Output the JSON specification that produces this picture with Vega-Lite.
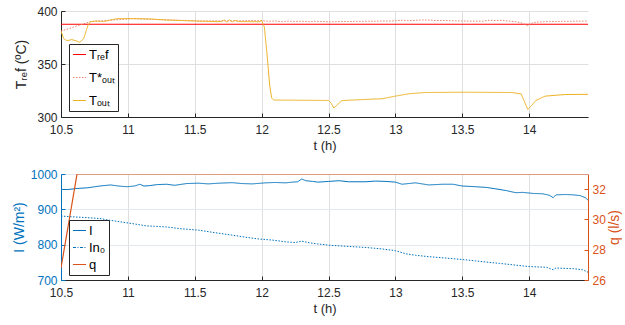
{
  "$schema": "https://vega.github.io/schema/vega-lite/v6.json",
  "padding": {"left": 12, "top": 5, "right": 0, "bottom": 5},
  "spacing": 16,
  "config": {
    "font": "Liberation Sans",
    "view": {"stroke": null},
    "axis": {"labelFont": "Liberation Sans", "titleFont": "Liberation Sans", "labelFontSize": 12, "titleFontSize": 13, "titleFontWeight": "normal", "labelColor": "#262626", "titleColor": "#262626", "domainColor": "#262626", "tickColor": "#262626", "gridColor": "#dfdfdf", "tickSize": -4, "labelPadding": 8, "titlePadding": 4, "labelFlush": false},
    "axisX": {"labelPadding": 11},
    "legend": {"labelFont": "Liberation Sans", "labelFontSize": 13, "labelColor": "#000000", "strokeColor": "#262626", "fillColor": "white", "padding": 3, "symbolType": "stroke", "symbolSize": 170, "symbolStrokeWidth": 1.2, "rowPadding": 6, "labelOffset": 2, "orient": "none"}
  },
  "resolve": {"scale": {"color": "independent"}},
  "vconcat": [
    {
      "width": 527,
      "height": 106,
      "data": {"values": [
        {"t": 10.5, "v": 387.5, "s": "Tᵣₑf"}, {"t": 14.44, "v": 387.5, "s": "Tᵣₑf"},
        {"t": 10.5, "v": 381, "s": "T*ₒᵤₜ"}, {"t": 10.72, "v": 390, "s": "T*ₒᵤₜ"}, {"t": 11.04, "v": 392.8, "s": "T*ₒᵤₜ"}, {"t": 11.53, "v": 390.5, "s": "T*ₒᵤₜ"}, {"t": 12.0, "v": 391, "s": "T*ₒᵤₜ"},
        {"t": 12.05, "v": 390.2, "s": "T*ₒᵤₜ"}, {"t": 12.1, "v": 390.6, "s": "T*ₒᵤₜ"}, {"t": 12.15, "v": 390.0, "s": "T*ₒᵤₜ"}, {"t": 12.2, "v": 390.5, "s": "T*ₒᵤₜ"}, {"t": 12.25, "v": 390.1, "s": "T*ₒᵤₜ"}, {"t": 12.3, "v": 390.4, "s": "T*ₒᵤₜ"}, {"t": 12.35, "v": 389.9, "s": "T*ₒᵤₜ"}, {"t": 12.4, "v": 390.3, "s": "T*ₒᵤₜ"}, {"t": 12.45, "v": 390.0, "s": "T*ₒᵤₜ"}, {"t": 12.5, "v": 389.8, "s": "T*ₒᵤₜ"}, {"t": 12.55, "v": 389.9, "s": "T*ₒᵤₜ"}, {"t": 12.6, "v": 390.1, "s": "T*ₒᵤₜ"}, {"t": 12.65, "v": 390.0, "s": "T*ₒᵤₜ"}, {"t": 12.7, "v": 390.3, "s": "T*ₒᵤₜ"}, {"t": 12.75, "v": 390.2, "s": "T*ₒᵤₜ"}, {"t": 12.8, "v": 390.4, "s": "T*ₒᵤₜ"}, {"t": 12.85, "v": 390.3, "s": "T*ₒᵤₜ"}, {"t": 12.9, "v": 390.6, "s": "T*ₒᵤₜ"}, {"t": 12.95, "v": 390.5, "s": "T*ₒᵤₜ"}, {"t": 13.0, "v": 390.8, "s": "T*ₒᵤₜ"}, {"t": 13.05, "v": 391.3, "s": "T*ₒᵤₜ"}, {"t": 13.1, "v": 390.8, "s": "T*ₒᵤₜ"}, {"t": 13.15, "v": 391.2, "s": "T*ₒᵤₜ"}, {"t": 13.2, "v": 391.5, "s": "T*ₒᵤₜ"}, {"t": 13.25, "v": 391.4, "s": "T*ₒᵤₜ"}, {"t": 13.3, "v": 391.1, "s": "T*ₒᵤₜ"}, {"t": 13.35, "v": 391.0, "s": "T*ₒᵤₜ"}, {"t": 13.4, "v": 390.9, "s": "T*ₒᵤₜ"}, {"t": 13.45, "v": 390.7, "s": "T*ₒᵤₜ"}, {"t": 13.5, "v": 390.6, "s": "T*ₒᵤₜ"}, {"t": 13.55, "v": 390.5, "s": "T*ₒᵤₜ"}, {"t": 13.6, "v": 390.4, "s": "T*ₒᵤₜ"}, {"t": 13.65, "v": 390.3, "s": "T*ₒᵤₜ"}, {"t": 13.7, "v": 391.3, "s": "T*ₒᵤₜ"}, {"t": 13.75, "v": 391.0, "s": "T*ₒᵤₜ"}, {"t": 13.8, "v": 391.2, "s": "T*ₒᵤₜ"}, {"t": 13.85, "v": 390.4, "s": "T*ₒᵤₜ"}, {"t": 13.9, "v": 390.0, "s": "T*ₒᵤₜ"}, {"t": 13.95, "v": 388.5, "s": "T*ₒᵤₜ"}, {"t": 13.99, "v": 386.0, "s": "T*ₒᵤₜ"}, {"t": 14.02, "v": 388.5, "s": "T*ₒᵤₜ"}, {"t": 14.05, "v": 389.5, "s": "T*ₒᵤₜ"}, {"t": 14.1, "v": 389.8, "s": "T*ₒᵤₜ"}, {"t": 14.15, "v": 390.2, "s": "T*ₒᵤₜ"}, {"t": 14.2, "v": 390.0, "s": "T*ₒᵤₜ"}, {"t": 14.25, "v": 390.4, "s": "T*ₒᵤₜ"}, {"t": 14.3, "v": 390.2, "s": "T*ₒᵤₜ"}, {"t": 14.35, "v": 390.5, "s": "T*ₒᵤₜ"}, {"t": 14.4, "v": 390.4, "s": "T*ₒᵤₜ"}, {"t": 14.44, "v": 390.5, "s": "T*ₒᵤₜ"},
        {"t": 10.5, "v": 381, "s": "Tₒᵤₜ"}, {"t": 10.52, "v": 374, "s": "Tₒᵤₜ"}, {"t": 10.545, "v": 372, "s": "Tₒᵤₜ"}, {"t": 10.58, "v": 373, "s": "Tₒᵤₜ"}, {"t": 10.61, "v": 372, "s": "Tₒᵤₜ"}, {"t": 10.64, "v": 370.5, "s": "Tₒᵤₜ"}, {"t": 10.67, "v": 374, "s": "Tₒᵤₜ"}, {"t": 10.69, "v": 382, "s": "Tₒᵤₜ"}, {"t": 10.7, "v": 386, "s": "Tₒᵤₜ"}, {"t": 10.72, "v": 390, "s": "Tₒᵤₜ"}, {"t": 10.77, "v": 390.5, "s": "Tₒᵤₜ"}, {"t": 10.82, "v": 390, "s": "Tₒᵤₜ"}, {"t": 10.87, "v": 391.5, "s": "Tₒᵤₜ"}, {"t": 10.92, "v": 392.8, "s": "Tₒᵤₜ"}, {"t": 11.04, "v": 392.8, "s": "Tₒᵤₜ"}, {"t": 11.16, "v": 392.5, "s": "Tₒᵤₜ"}, {"t": 11.29, "v": 391.5, "s": "Tₒᵤₜ"}, {"t": 11.41, "v": 391, "s": "Tₒᵤₜ"}, {"t": 11.53, "v": 390.5, "s": "Tₒᵤₜ"}, {"t": 11.66, "v": 390, "s": "Tₒᵤₜ"}, {"t": 11.7, "v": 390, "s": "Tₒᵤₜ"}, {"t": 11.72, "v": 391.5, "s": "Tₒᵤₜ"}, {"t": 11.74, "v": 389.5, "s": "Tₒᵤₜ"}, {"t": 11.76, "v": 391.5, "s": "Tₒᵤₜ"}, {"t": 11.78, "v": 389.8, "s": "Tₒᵤₜ"}, {"t": 11.8, "v": 391, "s": "Tₒᵤₜ"}, {"t": 11.83, "v": 390, "s": "Tₒᵤₜ"}, {"t": 11.9, "v": 390, "s": "Tₒᵤₜ"}, {"t": 11.98, "v": 389.8, "s": "Tₒᵤₜ"}, {"t": 12.0, "v": 391, "s": "Tₒᵤₜ"}, {"t": 12.02, "v": 385, "s": "Tₒᵤₜ"}, {"t": 12.04, "v": 360, "s": "Tₒᵤₜ"}, {"t": 12.06, "v": 330, "s": "Tₒᵤₜ"}, {"t": 12.075, "v": 318, "s": "Tₒᵤₜ"}, {"t": 12.09, "v": 316, "s": "Tₒᵤₜ"}, {"t": 12.3, "v": 315.8, "s": "Tₒᵤₜ"}, {"t": 12.5, "v": 315.6, "s": "Tₒᵤₜ"}, {"t": 12.52, "v": 313, "s": "Tₒᵤₜ"}, {"t": 12.54, "v": 308.5, "s": "Tₒᵤₜ"}, {"t": 12.57, "v": 312, "s": "Tₒᵤₜ"}, {"t": 12.6, "v": 315.5, "s": "Tₒᵤₜ"}, {"t": 12.78, "v": 316.6, "s": "Tₒᵤₜ"}, {"t": 12.9, "v": 317.2, "s": "Tₒᵤₜ"}, {"t": 13.0, "v": 319.7, "s": "Tₒᵤₜ"}, {"t": 13.1, "v": 321.9, "s": "Tₒᵤₜ"}, {"t": 13.22, "v": 323.1, "s": "Tₒᵤₜ"}, {"t": 13.52, "v": 323.4, "s": "Tₒᵤₜ"}, {"t": 13.87, "v": 323.1, "s": "Tₒᵤₜ"}, {"t": 13.94, "v": 321.8, "s": "Tₒᵤₜ"}, {"t": 13.97, "v": 313, "s": "Tₒᵤₜ"}, {"t": 13.99, "v": 307.2, "s": "Tₒᵤₜ"}, {"t": 14.02, "v": 311, "s": "Tₒᵤₜ"}, {"t": 14.05, "v": 315.6, "s": "Tₒᵤₜ"}, {"t": 14.12, "v": 319.7, "s": "Tₒᵤₜ"}, {"t": 14.27, "v": 321.2, "s": "Tₒᵤₜ"}, {"t": 14.44, "v": 321.4, "s": "Tₒᵤₜ"}
      ]},
      "mark": {"type": "line", "strokeWidth": 1, "clip": true},
      "encoding": {
        "x": {"field": "t", "type": "quantitative", "scale": {"domain": [10.5, 14.44], "nice": false, "zero": false}, "axis": {"values": [10.5, 11, 11.5, 12, 12.5, 13, 13.5, 14], "format": "~g", "title": "t (h)"}},
        "y": {"field": "v", "type": "quantitative", "scale": {"domain": [300, 400], "zero": false}, "axis": {"values": [300, 350, 400], "title": "Tᵣₑf (ºC)", "titleFontSize": 14, "titlePadding": 8}},
        "color": {"field": "s", "type": "nominal", "sort": null, "scale": {"domain": ["Tᵣₑf", "T*ₒᵤₜ", "Tₒᵤₜ"], "range": ["#ff0000", "#e8846c", "#EDB120"]}, "legend": {"title": null, "legendX": 8, "legendY": 33, "rowPadding": 8, "encode": {"symbols": {"update": {"strokeDash": {"signal": "datum.value === 'T*ₒᵤₜ' ? [1.5, 1.5] : [1, 0]"}}}}}},
        "strokeDash": {"field": "s", "type": "nominal", "sort": null, "scale": {"domain": ["Tᵣₑf", "T*ₒᵤₜ", "Tₒᵤₜ"], "range": [[1, 0], [1.5, 1.5], [1, 0]]}, "legend": null}
      }
    },
    {
      "width": 527,
      "height": 106,
      "layer": [
        {
          "data": {"values": [
            {"t": 10.5, "v": 956.5, "s": "I"}, {"t": 10.55, "v": 956, "s": "I"}, {"t": 10.62, "v": 959, "s": "I"}, {"t": 10.7, "v": 961, "s": "I"}, {"t": 10.79, "v": 966, "s": "I"}, {"t": 10.87, "v": 969, "s": "I"}, {"t": 10.93, "v": 966, "s": "I"}, {"t": 10.99, "v": 964, "s": "I"}, {"t": 11.05, "v": 966, "s": "I"}, {"t": 11.09, "v": 971, "s": "I"}, {"t": 11.12, "v": 966, "s": "I"}, {"t": 11.16, "v": 967, "s": "I"}, {"t": 11.22, "v": 970, "s": "I"}, {"t": 11.29, "v": 971, "s": "I"}, {"t": 11.35, "v": 968, "s": "I"}, {"t": 11.44, "v": 973, "s": "I"}, {"t": 11.53, "v": 974, "s": "I"}, {"t": 11.6, "v": 972, "s": "I"}, {"t": 11.68, "v": 974, "s": "I"}, {"t": 11.78, "v": 975.5, "s": "I"}, {"t": 11.85, "v": 973, "s": "I"}, {"t": 11.93, "v": 972, "s": "I"}, {"t": 12.03, "v": 975, "s": "I"}, {"t": 12.1, "v": 976, "s": "I"}, {"t": 12.18, "v": 975, "s": "I"}, {"t": 12.23, "v": 977, "s": "I"}, {"t": 12.27, "v": 978, "s": "I"}, {"t": 12.3, "v": 986, "s": "I"}, {"t": 12.33, "v": 981, "s": "I"}, {"t": 12.38, "v": 979, "s": "I"}, {"t": 12.42, "v": 977, "s": "I"}, {"t": 12.5, "v": 979, "s": "I"}, {"t": 12.58, "v": 981, "s": "I"}, {"t": 12.65, "v": 978, "s": "I"}, {"t": 12.78, "v": 978, "s": "I"}, {"t": 12.85, "v": 980, "s": "I"}, {"t": 12.93, "v": 979, "s": "I"}, {"t": 13.0, "v": 977, "s": "I"}, {"t": 13.05, "v": 971, "s": "I"}, {"t": 13.1, "v": 973, "s": "I"}, {"t": 13.15, "v": 975, "s": "I"}, {"t": 13.2, "v": 972, "s": "I"}, {"t": 13.25, "v": 969, "s": "I"}, {"t": 13.35, "v": 971, "s": "I"}, {"t": 13.43, "v": 971, "s": "I"}, {"t": 13.5, "v": 966, "s": "I"}, {"t": 13.6, "v": 964, "s": "I"}, {"t": 13.68, "v": 962, "s": "I"}, {"t": 13.75, "v": 958, "s": "I"}, {"t": 13.83, "v": 953, "s": "I"}, {"t": 13.9, "v": 947, "s": "I"}, {"t": 13.95, "v": 948, "s": "I"}, {"t": 14.03, "v": 945, "s": "I"}, {"t": 14.1, "v": 944, "s": "I"}, {"t": 14.15, "v": 940, "s": "I"}, {"t": 14.18, "v": 933, "s": "I"}, {"t": 14.2, "v": 941, "s": "I"}, {"t": 14.27, "v": 942, "s": "I"}, {"t": 14.33, "v": 941, "s": "I"}, {"t": 14.38, "v": 939, "s": "I"}, {"t": 14.42, "v": 933, "s": "I"}, {"t": 14.44, "v": 926, "s": "I"},
            {"t": 10.5, "v": 881, "s": "In₀"}, {"t": 10.58, "v": 879, "s": "In₀"}, {"t": 10.67, "v": 877, "s": "In₀"}, {"t": 10.79, "v": 874, "s": "In₀"}, {"t": 10.85, "v": 870, "s": "In₀"}, {"t": 10.92, "v": 866, "s": "In₀"}, {"t": 10.99, "v": 862, "s": "In₀"}, {"t": 11.06, "v": 858, "s": "In₀"}, {"t": 11.14, "v": 853, "s": "In₀"}, {"t": 11.2, "v": 852, "s": "In₀"}, {"t": 11.29, "v": 850, "s": "In₀"}, {"t": 11.4, "v": 845, "s": "In₀"}, {"t": 11.53, "v": 841, "s": "In₀"}, {"t": 11.65, "v": 834, "s": "In₀"}, {"t": 11.78, "v": 827, "s": "In₀"}, {"t": 11.88, "v": 821, "s": "In₀"}, {"t": 11.98, "v": 816, "s": "In₀"}, {"t": 12.08, "v": 813, "s": "In₀"}, {"t": 12.18, "v": 808, "s": "In₀"}, {"t": 12.25, "v": 806, "s": "In₀"}, {"t": 12.3, "v": 810, "s": "In₀"}, {"t": 12.36, "v": 805, "s": "In₀"}, {"t": 12.42, "v": 802, "s": "In₀"}, {"t": 12.52, "v": 798, "s": "In₀"}, {"t": 12.65, "v": 795, "s": "In₀"}, {"t": 12.78, "v": 792, "s": "In₀"}, {"t": 12.9, "v": 788, "s": "In₀"}, {"t": 13.0, "v": 783, "s": "In₀"}, {"t": 13.08, "v": 774, "s": "In₀"}, {"t": 13.15, "v": 770, "s": "In₀"}, {"t": 13.25, "v": 766, "s": "In₀"}, {"t": 13.38, "v": 762, "s": "In₀"}, {"t": 13.5, "v": 758, "s": "In₀"}, {"t": 13.6, "v": 754, "s": "In₀"}, {"t": 13.7, "v": 750, "s": "In₀"}, {"t": 13.78, "v": 747, "s": "In₀"}, {"t": 13.9, "v": 742, "s": "In₀"}, {"t": 14.0, "v": 738, "s": "In₀"}, {"t": 14.13, "v": 736, "s": "In₀"}, {"t": 14.18, "v": 729, "s": "In₀"}, {"t": 14.2, "v": 734, "s": "In₀"}, {"t": 14.33, "v": 732, "s": "In₀"}, {"t": 14.4, "v": 729, "s": "In₀"}, {"t": 14.44, "v": 722, "s": "In₀"}
          ]},
          "mark": {"type": "line", "strokeWidth": 1, "clip": true},
          "encoding": {
            "x": {"field": "t", "type": "quantitative", "scale": {"domain": [10.5, 14.44], "nice": false, "zero": false}, "axis": {"values": [10.5, 11, 11.5, 12, 12.5, 13, 13.5, 14], "format": "~g", "title": "t (h)"}},
            "y": {"field": "v", "type": "quantitative", "scale": {"domain": [700, 1000], "zero": false}, "axis": {"orient": "left", "values": [700, 800, 900, 1000], "format": "d", "title": "I (W/m²)", "titleFontSize": 14, "titlePadding": 4, "labelColor": "#0072BD", "titleColor": "#0072BD", "domainColor": "#0072BD", "tickColor": "#0072BD", "gridColor": "#e3e8ee"}},
            "color": {"field": "s", "type": "nominal", "sort": null, "scale": {"domain": ["I", "In₀", "q"], "range": ["#0072BD", "#0072BD", "#D95319"]}, "legend": {"title": null, "legendX": 8, "legendY": 46, "rowPadding": 2, "encode": {"symbols": {"update": {"strokeDash": {"signal": "datum.value === 'In₀' ? [3, 1.5, 1, 1.5] : [1, 0]"}}}}}},
            "strokeDash": {"field": "s", "type": "nominal", "sort": null, "scale": {"domain": ["I", "In₀", "q"], "range": [[1, 0], [3, 1.5, 1, 1.5], [1, 0]]}, "legend": null}
          }
        },
        {
          "data": {"values": [
            {"t": 10.5, "q": 26.8, "s": "q"}, {"t": 10.62, "q": 33.0, "s": "q"}, {"t": 14.44, "q": 33.0, "s": "q"}
          ]},
          "mark": {"type": "line", "strokeWidth": 1.2, "clip": true},
          "encoding": {
            "x": {"field": "t", "type": "quantitative"},
            "y": {"field": "q", "type": "quantitative", "scale": {"domain": [26, 33], "zero": false, "nice": false}, "axis": {"orient": "right", "values": [26, 28, 30, 32], "grid": false, "title": "q (l/s)", "titleAngle": 270, "titleFontSize": 14, "titlePadding": 16, "labelColor": "#D95319", "titleColor": "#D95319", "domainColor": "#D95319", "tickColor": "#D95319"}},
            "color": {"field": "s", "type": "nominal", "sort": null, "scale": {"domain": ["I", "In₀", "q"], "range": ["#0072BD", "#0072BD", "#D95319"]}, "legend": null},
            "strokeDash": {"field": "s", "type": "nominal", "sort": null, "scale": {"domain": ["I", "In₀", "q"], "range": [[1, 0], [3, 1.5, 1, 1.5], [1, 0]]}, "legend": null}
          }
        }
      ],
      "resolve": {"scale": {"y": "independent"}}
    }
  ]
}
